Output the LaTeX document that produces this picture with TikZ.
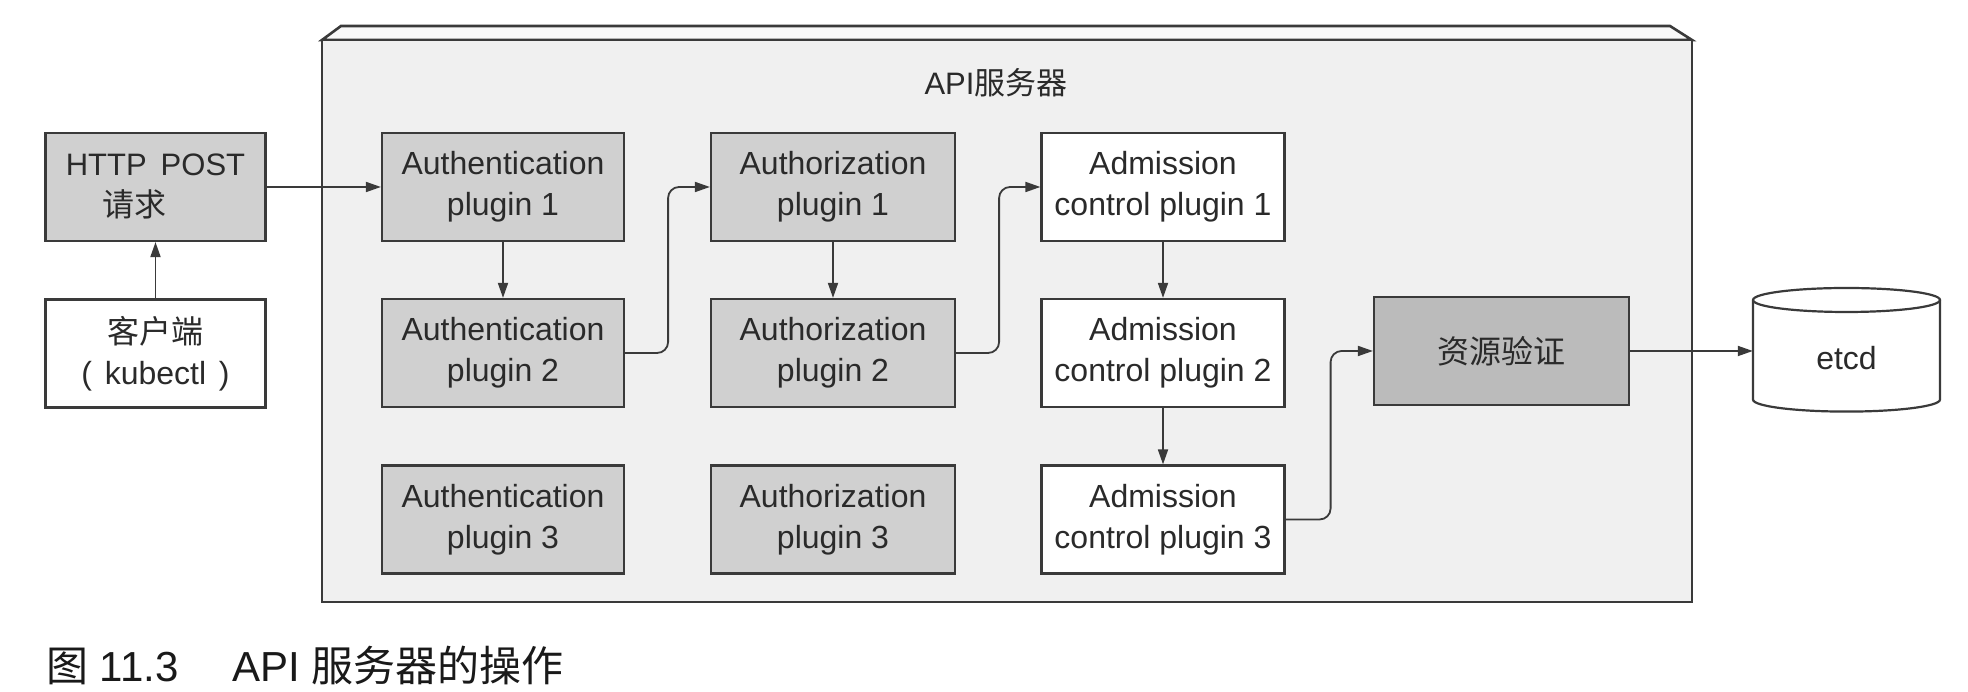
\documentclass[tikz,border=0pt]{standalone}
\usepackage{fontspec}
\setmainfont{Liberation Sans}
\newfontfamily\cjk{Noto Sans CJK SC}
\usetikzlibrary{arrows.meta}
\definecolor{txt}{HTML}{2A2A2A}
\definecolor{boxgrey}{HTML}{D0D0D0}
\definecolor{resgrey}{HTML}{BBBBBB}
\definecolor{srvbg}{HTML}{F0F0F0}
\definecolor{srvtop}{HTML}{F8F8F8}
\definecolor{edge}{HTML}{3A3A3A}
\begin{document}
\begin{tikzpicture}[x=1pt,y=1pt,
  basebox/.style={draw=edge, line width=2.2pt, minimum height=108pt, align=center,
    text=txt, font=\fontsize{32}{41}\selectfont, inner sep=0pt},
  greybox/.style={basebox, fill=boxgrey},
  whitebox/.style={basebox, fill=white},
  flow/.style={draw=edge, line width=1.8pt, -{Triangle[length=15pt,width=10pt]}},
  bentflow/.style={flow, rounded corners=11pt}
]
\useasboundingbox (0,0) rectangle (1968,692);
\fill[white] (0,0) rectangle (1968,692);
% server box
\filldraw[draw=edge, line width=2.6pt, fill=srvtop] (322,652) -- (341,666) -- (1670,666) -- (1692,652) -- cycle;
\filldraw[draw=edge, line width=2.6pt, fill=srvbg] (322,90) rectangle (1692,652);
\node[text=txt, font=\fontsize{31}{41}\selectfont] (title) at (996,609) {API{\cjk 服务器}};

% nodes
\node[greybox, minimum width=220pt] (http) at (155.5,505) {\fontsize{31}{41}\selectfont HTTP\hspace{0.45em}POST\\{\cjk 请求}\hspace*{42pt}};
\node[whitebox, minimum width=220pt] (client) at (155.5,338.5) {{\cjk 客户端}\\(\hspace{0.4em}kubectl\hspace{0.4em})};

\node[greybox, minimum width=242pt] (au1) at (503,505) {Authentication\\plugin 1};
\node[greybox, minimum width=242pt] (au2) at (503,339) {Authentication\\plugin 2};
\node[greybox, minimum width=242pt] (au3) at (503,172.5) {Authentication\\plugin 3};

\node[greybox, minimum width=244pt] (az1) at (833,505) {Authorization\\plugin 1};
\node[greybox, minimum width=244pt] (az2) at (833,339) {Authorization\\plugin 2};
\node[greybox, minimum width=244pt] (az3) at (833,172.5) {Authorization\\plugin 3};

\node[whitebox, minimum width=243pt] (ad1) at (1163,505) {Admission\\control plugin 1};
\node[whitebox, minimum width=243pt] (ad2) at (1163,339) {Admission\\control plugin 2};
\node[whitebox, minimum width=243pt] (ad3) at (1163,172.5) {Admission\\control plugin 3};

\node[basebox, fill=resgrey, minimum width=255pt] (res) at (1501.5,341) {{\cjk 资源验证}};

% etcd cylinder
\node[minimum width=187pt, minimum height=124pt, inner sep=0pt] (etcd) at (1846.5,342) {};
\filldraw[draw=edge, line width=2.2pt, fill=white]
  (1753,392) -- (1753,292.4) arc[start angle=180, end angle=360, x radius=93.5pt, y radius=12pt]
  -- (1940,392) arc[start angle=0, end angle=180, x radius=93.5pt, y radius=12pt] -- cycle;
\draw[draw=edge, line width=2.2pt] (1753,392) arc[start angle=180, end angle=360, x radius=93.5pt, y radius=12pt];
\node[text=txt, font=\fontsize{32}{41}\selectfont] (etcdlabel) at (1846.5,334) {etcd};

% connectors
\draw[flow] (http.east) -- (au1.west);
\draw[flow] (client.north) -- (http.south);
\draw[flow] (au1.south) -- (au2.north);
\draw[flow] (az1.south) -- (az2.north);
\draw[flow] (ad1.south) -- (ad2.north);
\draw[flow] (ad2.south) -- (ad3.north);
\draw[bentflow] (au2.east) -- ++(43,0) |- (az1.west);
\draw[bentflow] (az2.east) -- ++(43,0) |- (ad1.west);
\draw[bentflow] (ad3.east) -- ++(45,0) |- (res.west);
\draw[flow] (res.east) -- (res.east -| etcd.west);

% caption
\node[anchor=west, inner sep=0pt, text=black!90, font=\fontsize{42}{48}\selectfont] (caption) at (46,27) {{\cjk 图} 11.3\quad\ API {\cjk 服务器的操作}};
\end{tikzpicture}
\end{document}
